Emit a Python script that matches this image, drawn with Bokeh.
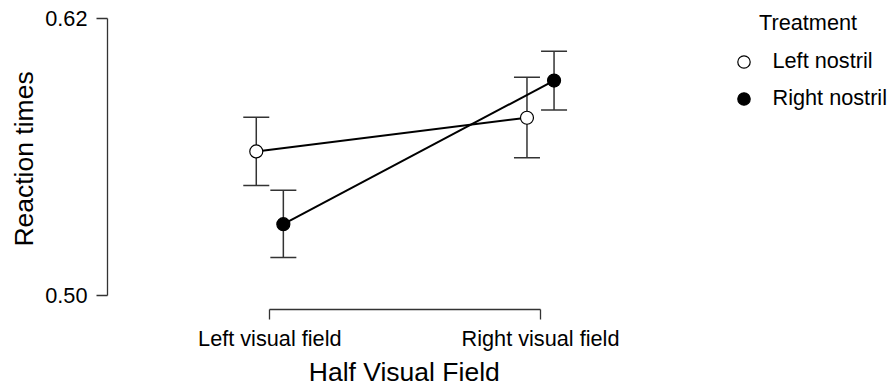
import numpy as np
from bokeh.plotting import figure
from bokeh.models import (ColumnDataSource, Whisker, TeeHead, Legend, LegendItem, Label,
                          Range1d, FixedTicker, NumeralTickFormatter)
from bokeh.embed import file_html
from bokeh.resources import INLINE

# ---- data ----
fields = ["Left visual field", "Right visual field"]
field_pos = [1, 2]
treatments = ["Left nostril", "Right nostril"]
left_mean = [0.5624, 0.5770]
left_lower = [0.5477, 0.5597]
left_upper = [0.5772, 0.5946]
right_mean = [0.5309, 0.5931]
right_lower = [0.5165, 0.5804]
right_upper = [0.5456, 0.6058]
y_ticks = [0.50, 0.62]
dodge = 0.05

FONT = "Liberation Sans"
TICK_FS = "21.7px"
TITLE_FS = "26.5px"
AX_COL = "#333333"

p = figure(width=892, height=390,
           x_range=Range1d(0.4004, 3.3003), y_range=Range1d(0.49393, 0.62433),
           output_backend="svg", toolbar_location=None,
           min_border_left=107, min_border_right=0, min_border_top=8, min_border_bottom=81)
p.outline_line_color = None
p.xgrid.visible = False
p.ygrid.visible = False

# x axis
p.xaxis.bounds = (field_pos[0], field_pos[-1])
p.xaxis.ticker = FixedTicker(ticks=field_pos)
p.xaxis.major_label_overrides = {k: v for k, v in zip(field_pos, fields)}
# title centred under the axis bounds (padding shifts it left of the frame centre)
p.xaxis.axis_label = "Half Visual Field" + "\u00a0" * 26
# y axis
p.yaxis.bounds = (y_ticks[0], y_ticks[-1])
p.yaxis.ticker = FixedTicker(ticks=y_ticks)
p.yaxis.formatter = NumeralTickFormatter(format="0.00")
p.yaxis.axis_label = "Reaction times"

for ax in (p.xaxis[0], p.yaxis[0]):
    ax.axis_line_color = AX_COL
    ax.axis_line_width = 1.3
    ax.major_tick_line_color = AX_COL
    ax.major_tick_line_width = 1.3
    ax.minor_tick_line_color = None
    ax.major_tick_in = 0
    ax.major_label_text_font = FONT
    ax.major_label_text_font_size = TICK_FS
    ax.major_label_text_color = "black"
    ax.axis_label_text_font = FONT
    ax.axis_label_text_font_size = TITLE_FS
    ax.axis_label_text_font_style = "normal"
    ax.axis_label_text_color = "black"

p.xaxis.major_tick_out = 10
p.xaxis.major_label_standoff = 6
p.xaxis.axis_label_standoff = 3
p.yaxis.major_tick_out = 11
p.yaxis.major_label_standoff = 9
p.yaxis.axis_label_standoff = 3

src_l = ColumnDataSource(dict(x=np.array(field_pos) - dodge, y=left_mean,
                              lower=left_lower, upper=left_upper))
src_r = ColumnDataSource(dict(x=np.array(field_pos) + dodge, y=right_mean,
                              lower=right_lower, upper=right_upper))

for src in (src_l, src_r):
    w = Whisker(source=src, base="x", upper="upper", lower="lower", dimension="height",
                line_color=AX_COL, line_width=1.5, level="underlay",
                upper_head=TeeHead(size=26, line_color=AX_COL, line_width=1.5),
                lower_head=TeeHead(size=26, line_color=AX_COL, line_width=1.5))
    p.add_layout(w)

p.line("x", "y", source=src_l, line_color="black", line_width=2)
p.line("x", "y", source=src_r, line_color="black", line_width=2)
r_l = p.scatter("x", "y", source=src_l, size=13, fill_color="white",
                line_color="black", line_width=1.2)
r_r = p.scatter("x", "y", source=src_r, size=13, fill_color="black",
                line_color="black", line_width=1.2)

legend = Legend(items=[LegendItem(label=treatments[0], renderers=[r_l]),
                       LegendItem(label=treatments[1], renderers=[r_r])],
                location=(620.5, 195.5), orientation="vertical",
                glyph_width=31, glyph_height=31, label_height=31,
                label_standoff=14, spacing=6, padding=0, margin=0,
                border_line_color=None, background_fill_alpha=0,
                label_text_font=FONT, label_text_font_size=TICK_FS,
                label_text_color="black")
p.add_layout(legend)

p.add_layout(Label(x=651.5, y=287, x_units="screen", y_units="screen", text="Treatment",
                   text_baseline="middle", text_align="left", text_font=FONT,
                   text_font_size=TICK_FS, text_color="black"))

open("out.html", "w").write(file_html(p, INLINE))
